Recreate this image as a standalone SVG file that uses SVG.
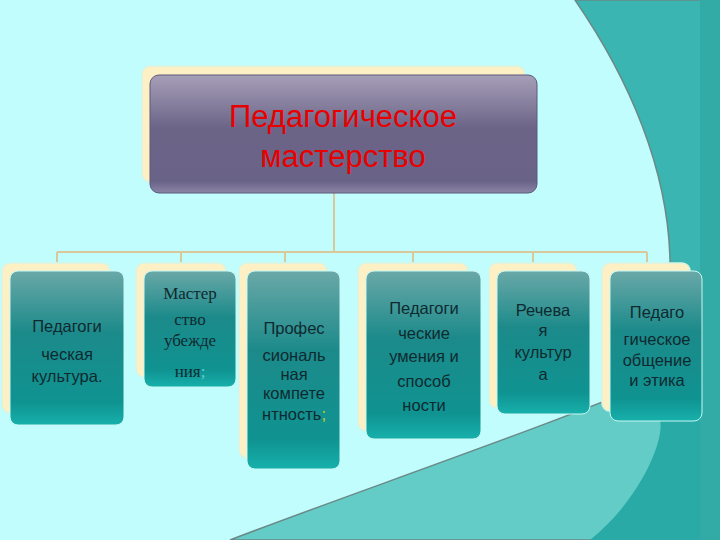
<svg xmlns="http://www.w3.org/2000/svg" width="720" height="540" viewBox="0 0 720 540">
<defs>
<linearGradient id="g1" x1="0" y1="0" x2="0" y2="1"><stop offset="0" stop-color="#a79fb8"/><stop offset="0.45" stop-color="#6b6487"/><stop offset="0.9" stop-color="#6a6388"/><stop offset="1" stop-color="#8a84a6"/></linearGradient>
<linearGradient id="g2" x1="0" y1="0" x2="0" y2="1"><stop offset="0" stop-color="#6aa8a8"/><stop offset="0.4" stop-color="#1c8a8a"/><stop offset="0.85" stop-color="#0f9391"/><stop offset="1" stop-color="#17b0ab"/></linearGradient>
<style>
.back{fill:#fdf0c4;stroke:#d8f4e4;stroke-width:1.5}
.front{fill:url(#g2);stroke:#c8f8f4;stroke-width:1}
.t{font-family:"Liberation Sans",Arial,sans-serif;font-size:16.5px;fill:#0e2a30;text-anchor:middle}
.s{font-family:"Liberation Serif","Times New Roman",serif;font-size:17px;fill:#0e2a30;text-anchor:middle}
.c{stroke:#d8c89a;stroke-width:2;fill:none}
</style>
</defs>
<rect width="720" height="540" fill="#c0fdfc"/>
<path d="M575,0 C630,80 668,170 670,260 C672,360 640,470 590,540 L720,540 L720,0 Z" fill="#3bb5b2" stroke="#6a8a88" stroke-width="1.5"/>
<path d="M230,540 C360,490 540,430 720,355 L720,540 Z" fill="#64ccc6" stroke="#6a8a88" stroke-width="1.5"/>
<path d="M660,420 C665,440 640,500 590,540 L720,540 L720,392 Z" fill="#2aaaa6"/>
<rect x="700" y="0" width="20" height="540" fill="#32aaa6"/>
<g id="connectors" class="c">
<path d="M334,193 V252 M57,252 H647 M57,252 V262 M181,252 V262 M285,252 V262 M413,252 V262 M533,252 V262 M647,252 V262"/>
</g>
<g id="root">
<rect class="back" x="142" y="66" width="383" height="116" rx="8"/>
<rect x="150" y="75" width="387" height="118" rx="9" fill="url(#g1)" stroke="#5a5a7a"/>
<text x="343" y="127" font-family="Liberation Sans,Arial,sans-serif" font-size="31" fill="#e80000" text-anchor="middle">Педагогическое</text>
<text x="343" y="167" font-family="Liberation Sans,Arial,sans-serif" font-size="31" fill="#e80000" text-anchor="middle">мастерство</text>
</g>
<g id="n1"><rect class="back" x="2" y="263" width="108" height="150" rx="8"/><rect class="front" x="10" y="271" width="114" height="154" rx="8"/>
<text class="t" x="67" y="332">Педагоги</text><text class="t" x="67" y="360">ческая</text><text class="t" x="67" y="382">культура.</text></g>
<g id="n2"><rect class="back" x="136" y="263" width="90" height="114" rx="8"/><rect class="front" x="144" y="271" width="92" height="116" rx="8"/>
<text class="s" x="190" y="299">Мастер</text><text class="s" x="190" y="325">ство</text><text class="s" x="190" y="346">убежде</text><text class="s" x="190" y="377">ния<tspan fill="#5fd0d0">;</tspan></text></g>
<g id="n3"><rect class="back" x="239" y="263" width="88" height="195" rx="8"/><rect class="front" x="247" y="271" width="93" height="198" rx="8"/>
<text class="t" x="294" y="334">Профес</text><text class="t" x="294" y="361">сиональ</text><text class="t" x="294" y="380">ная</text><text class="t" x="294" y="399">компете</text><text class="t" x="294" y="420">нтность<tspan fill="#c8d020">;</tspan></text></g>
<g id="n4"><rect class="back" x="358" y="263" width="110" height="168" rx="8"/><rect class="front" x="366" y="271" width="115" height="168" rx="8"/>
<text class="t" x="424" y="314">Педагоги</text><text class="t" x="424" y="339">ческие</text><text class="t" x="424" y="362">умения и</text><text class="t" x="424" y="387">способ</text><text class="t" x="424" y="411">ности</text></g>
<g id="n5"><rect class="back" x="489" y="263" width="88" height="145" rx="8"/><rect class="front" x="497" y="271" width="93" height="143" rx="8"/>
<text class="t" x="543" y="316">Речева</text><text class="t" x="543" y="336">я</text><text class="t" x="543" y="358">культур</text><text class="t" x="543" y="380">а</text></g>
<g id="n6"><rect class="back" x="602" y="263" width="88" height="148" rx="8"/><rect class="front" x="610" y="271" width="92" height="150" rx="8"/>
<text class="t" x="657" y="318">Педаго</text><text class="t" x="657" y="345">гическое</text><text class="t" x="657" y="366">общение</text><text class="t" x="657" y="386">и этика</text></g>
</svg>
